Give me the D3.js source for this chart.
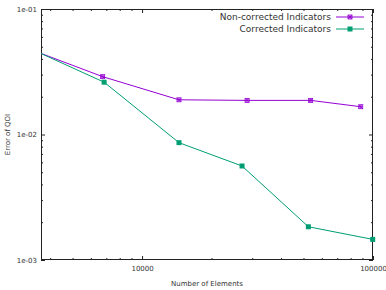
<!DOCTYPE html>
<html>
<head>
<meta charset="utf-8">
<script src="https://cdn.jsdelivr.net/npm/d3@7"></script>
<style>
  body { margin: 0; background: #fff; }
  text { font-family: "DejaVu Sans", sans-serif; fill: #333; }
</style>
</head>
<body>
<div id="container"></div>
<script>
/* DATA */
const seriesNames = ["Non-corrected Indicators", "Corrected Indicators"];
const nonCorrectedN = [3600, 6750, 14450, 28500, 53700, 88500];
const nonCorrectedErr = [0.0447, 0.0289, 0.0189, 0.0187, 0.0187, 0.01665];
const correctedN = [3600, 6850, 14450, 27100, 52500, 99700];
const correctedErr = [0.0447, 0.0261, 0.00861, 0.00561, 0.00184, 0.00146];
const xMajorTicks = [10000, 100000];
const yMajorTicks = [0.001, 0.01, 0.1];

/* CONSTANTS */
const width = 386;
const height = 290;
const margin = { top: 9, bottom: 30, left: 41, right: 13 };
const colors = ["#9400d3", "#009e73"];

const xScale = d3.scaleLog()
  .domain([3650, 100000])
  .range([margin.left, width - margin.right]);

const yScale = d3.scaleLog()
  .domain([0.001, 0.1])
  .range([height - margin.bottom, margin.top]);

// minor ticks: 2..9 inside each decade
function minorTicks(lo, hi) {
  const out = [];
  for (let p = Math.floor(Math.log10(lo)); p <= Math.ceil(Math.log10(hi)); p++) {
    for (let k = 2; k <= 9; k++) {
      const v = k * Math.pow(10, p);
      if (v > lo && v < hi) out.push(v);
    }
  }
  return out;
}
const xMinor = minorTicks(3650, 100000).filter(v => !xMajorTicks.includes(v));
const yMinor = minorTicks(0.001, 0.1);

const expFmt = v => {
  const e = Math.round(Math.log10(v));
  return "1e" + (e < 0 ? "-" : "+") + String(Math.abs(e)).padStart(2, "0");
};

const svg = d3.select("#container")
  .append("svg")
  .attr("width", width)
  .attr("height", height);

const bottom = height - margin.bottom;
const right = width - margin.right;

function addAxis(axis, tx, ty) {
  const g = svg.append("g")
    .attr("transform", `translate(${tx},${ty})`)
    .call(axis);
  g.select(".domain").remove();
  g.selectAll("line").attr("stroke", "#222");
  g.selectAll("text").attr("font-size", 7).attr("fill", "#333").attr("font-family", "DejaVu Sans, sans-serif");
  return g;
}

// bottom & top x axes
addAxis(d3.axisBottom(xScale).tickValues(xMajorTicks).tickFormat(d3.format("d")).tickSize(-4).tickPadding(6), 0, bottom);
addAxis(d3.axisBottom(xScale).tickValues(xMinor).tickFormat("").tickSize(-2), 0, bottom);
addAxis(d3.axisTop(xScale).tickValues(xMajorTicks).tickFormat("").tickSize(-4), 0, margin.top);
addAxis(d3.axisTop(xScale).tickValues(xMinor).tickFormat("").tickSize(-2), 0, margin.top);

// left & right y axes
addAxis(d3.axisLeft(yScale).tickValues(yMajorTicks).tickFormat(expFmt).tickSize(-4).tickPadding(4), margin.left, 0);
addAxis(d3.axisLeft(yScale).tickValues(yMinor).tickFormat("").tickSize(-2), margin.left, 0);
addAxis(d3.axisRight(yScale).tickValues(yMajorTicks).tickFormat("").tickSize(-4), right, 0);
addAxis(d3.axisRight(yScale).tickValues(yMinor).tickFormat("").tickSize(-2), right, 0);

// frame
svg.append("rect")
  .attr("x", margin.left + 0.5)
  .attr("y", margin.top + 0.5)
  .attr("width", right - margin.left - 1)
  .attr("height", bottom - margin.top - 1)
  .attr("fill", "none")
  .attr("stroke", "#222")
  .attr("stroke-width", 1);

// axis titles
svg.append("text")
  .attr("x", (margin.left + right) / 2)
  .attr("y", 286)
  .attr("text-anchor", "middle")
  .attr("font-size", 7)
  .text("Number of Elements");

svg.append("text")
  .attr("transform", `translate(10,${(margin.top + bottom) / 2}) rotate(-90)`)
  .attr("text-anchor", "middle")
  .attr("font-size", 7)
  .text("Error of QOI");

/* SERIES */
const series = [
  { name: seriesNames[0], xs: nonCorrectedN, ys: nonCorrectedErr, color: colors[0], marker: "star" },
  { name: seriesNames[1], xs: correctedN, ys: correctedErr, color: colors[1], marker: "square" },
];

const line = d3.line().x(d => xScale(d[0])).y(d => yScale(d[1]));

svg.append("defs").append("clipPath").attr("id", "plot-clip")
  .append("rect")
  .attr("x", margin.left).attr("y", margin.top)
  .attr("width", right - margin.left).attr("height", bottom - margin.top);

function drawMarker(g, kind, x, y, color) {
  if (kind === "square") {
    g.append("rect")
      .attr("x", x - 2.5).attr("y", y - 2.5)
      .attr("width", 5).attr("height", 5)
      .attr("fill", color);
  } else {
    const s = 2;
    g.append("rect")
      .attr("x", x - s).attr("y", y - s)
      .attr("width", 2 * s).attr("height", 2 * s)
      .attr("fill", "none").attr("stroke", color).attr("stroke-width", 0.8);
    g.append("path")
      .attr("d", `M${x - s},${y}H${x + s}M${x},${y - s}V${y + s}M${x - s},${y - s}L${x + s},${y + s}M${x - s},${y + s}L${x + s},${y - s}`)
      .attr("stroke", color).attr("stroke-width", 0.8);
  }
}

const [xLo, xHi] = xScale.domain();
series.forEach(s => {
  const pts = s.xs.map((x, i) => [x, s.ys[i]]);
  svg.append("g").attr("clip-path", "url(#plot-clip)")
    .append("path")
    .datum(pts)
    .attr("d", line)
    .attr("fill", "none")
    .attr("stroke", s.color)
    .attr("stroke-width", 1);
  const mg = svg.append("g");
  pts.filter(p => p[0] >= xLo && p[0] <= xHi)
    .forEach(p => drawMarker(mg, s.marker, xScale(p[0]), yScale(p[1]), s.color));
});

/* LEGEND */
series.forEach((s, i) => {
  const ly = 17 + i * 12;
  svg.append("text")
    .attr("x", 331)
    .attr("y", ly + 3)
    .attr("text-anchor", "end")
    .attr("font-size", 9)
    .text(s.name);
  svg.append("line")
    .attr("x1", 336).attr("x2", 364)
    .attr("y1", ly).attr("y2", ly)
    .attr("stroke", s.color).attr("stroke-width", 1);
  drawMarker(svg, s.marker, 350, ly, s.color);
});
</script>
</body>
</html>
